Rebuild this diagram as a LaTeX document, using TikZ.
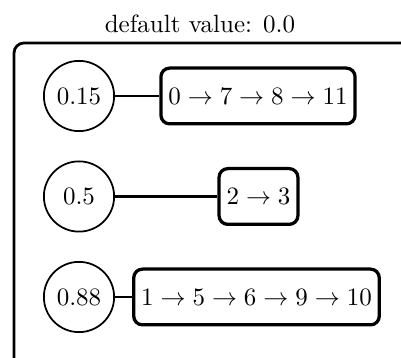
\documentclass[tikz,border=0pt]{standalone}
\begin{document}
\begin{tikzpicture}[x=0.4pt,y=-0.4pt,
  valnode/.style={draw,circle,line width=0.7pt,minimum size=28.1pt,inner sep=0pt},
  pathbox/.style={draw,rectangle,rounded corners=3.5pt,line width=1.3pt,minimum height=22.3pt,inner xsep=3pt},
  link/.style={line width=0.9pt}]
\clip (0,0) rectangle (401,358);
\useasboundingbox (0,0) rectangle (401,358);
\node[anchor=base] (title) at (200,33) {default value: 0.0};
\draw[line width=1.1pt,rounded corners=4pt] (14,420) -- (14,43) -- (440,43);
\node[valnode] (c1) at (79,96) {$0.15$};
\node[pathbox] (b1) at (258,96) {$0\rightarrow7\rightarrow8\rightarrow11$};
\node[valnode] (c2) at (79,196.5) {$0.5$};
\node[pathbox] (b2) at (258.5,196.5) {$2\rightarrow3$};
\node[valnode] (c3) at (79,297) {$0.88$};
\node[pathbox] (b3) at (256.5,297) {$1\rightarrow5\rightarrow6\rightarrow9\rightarrow10$};
\draw[link] (c1) -- (b1);
\draw[link] (c2) -- (b2);
\draw[link] (c3) -- (b3);
\end{tikzpicture}
\end{document}
